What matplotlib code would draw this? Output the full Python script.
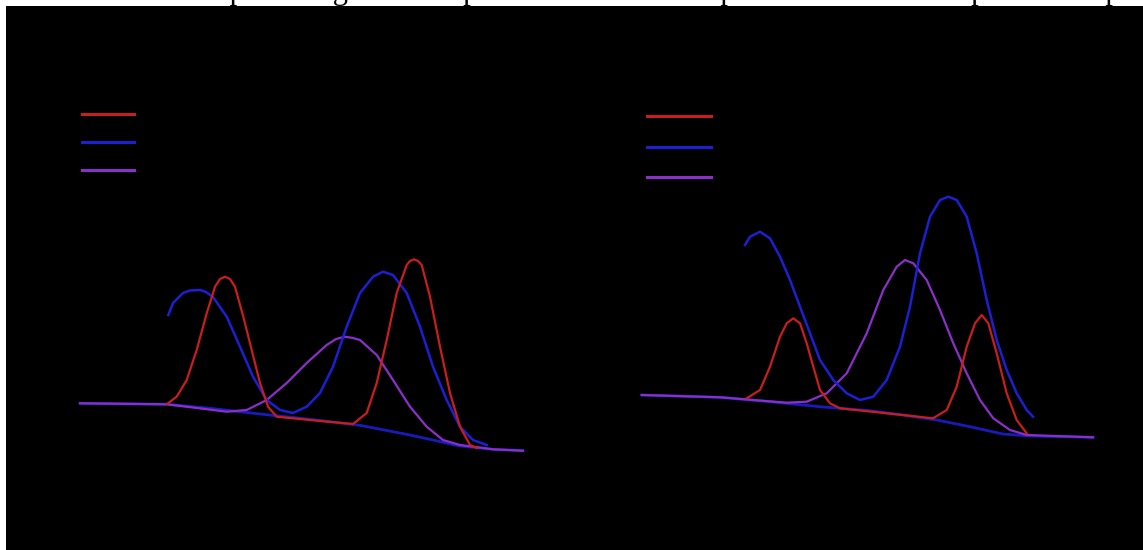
import matplotlib.pyplot as plt
from matplotlib.lines import Line2D

# colours of the three series
RED = "#c81e1e"
BLUE = "#1e1ed2"
PURPLE = "#8a30c8"

labels = ["Pristine", "After 24 h", "After 48 h"]

# ---- left panel (x: position, y: intensity a.u.)
l_bg_x = [80, 167, 210, 260, 310, 360, 410, 460, 493, 523]
l_bg_y = [96.7, 95.7, 91.7, 86, 80.7, 74.7, 65, 54, 50.7, 49.3]

l_red_x = [167, 176.7, 186.7, 196.7, 206.7, 215, 220, 225, 230, 235, 243.3, 251.7, 260, 268, 276.7,
           310, 353, 366.7, 376.7, 386.7, 396.7, 406.7, 410, 414, 418, 421.7, 430, 440, 450, 460, 470, 476.7]
l_red_y = [96, 103.3, 120, 150, 186.7, 213.3, 221, 223.3, 221, 213.3, 183.3, 150, 117, 93.3, 83.3,
           80, 76, 87, 117, 160, 207, 235, 239, 240.7, 239, 235, 203.3, 153.3, 107, 73.3, 55, 52]

l_blue_x = [168.3, 173, 183, 190, 200, 206, 213, 226.7, 240, 253, 266.7, 280, 293, 306.7, 320, 333,
            346.7, 360, 373, 383, 393, 406.7, 420, 433, 446.7, 460, 473, 486.7]
l_blue_y = [185, 197, 207, 209.5, 210, 208, 203, 183.3, 153.3, 123.3, 100, 90, 87, 93.3, 107, 133.3,
            173.3, 207, 223.3, 228.3, 225, 207, 173.3, 133.3, 100, 73.3, 60, 55]

l_pur_x = [80, 167, 226.7, 246.7, 266.7, 286.7, 306.7, 326.7, 336, 345, 353, 360, 376.7, 393, 410,
           426.7, 443, 460, 493, 523]
l_pur_y = [96.7, 95.7, 88.3, 90, 100, 117, 137, 155, 161, 163.3, 162, 160, 145, 120, 93.3,
           73.3, 60, 55, 50.7, 49.3]

# ---- right panel
r_bg_x = [641.7, 720, 770, 820, 870, 903, 936.7, 970, 1003, 1030, 1093]
r_bg_y = [105, 102.7, 98.3, 93.3, 89.3, 85, 80, 73.3, 66, 64, 62.7]

r_red_x = [746.7, 760, 770, 780, 786.7, 793.3, 800, 806.7, 813.3, 820, 830, 840, 886.7, 933,
           946.7, 956.7, 966.7, 975, 981.7, 988.3, 996.7, 1006.7, 1016.7, 1026.7]
r_red_y = [101.7, 110, 133.3, 163.3, 176.7, 181.7, 176.7, 156.7, 133.3, 110, 96.7, 91.7, 86.7, 81.7,
           90, 113.3, 153.3, 176.7, 185, 176.7, 146.7, 106.7, 80, 66.7]

r_blue_x = [745, 750, 760, 770, 780, 790, 800, 810, 820, 833.3, 846.7, 860, 873.3, 886.7, 900, 910,
            920, 930, 940, 948.3, 956.7, 966.7, 976.7, 986.7, 996.7, 1006.7, 1016.7, 1026.7, 1033]
r_blue_y = [255, 263.3, 268.3, 261.7, 243.3, 220, 193.3, 166.7, 140, 120, 106.7, 100, 103.3, 120,
            153.3, 193.3, 246.7, 283.3, 300, 303.3, 300, 283.3, 246.7, 200, 160, 130, 106.7, 90, 83.3]

r_pur_x = [641.7, 720, 786.7, 806.7, 826.7, 846.7, 866.7, 883.3, 896.7, 905, 913.3, 926.7, 940,
           953.3, 966.7, 980, 993.3, 1010, 1026.7, 1093]
r_pur_y = [105, 102.7, 97.3, 98.3, 106.7, 126.7, 166.7, 210, 233.3, 240, 236.7, 220, 190,
           156.7, 126.7, 100, 81.7, 70, 65, 62.7]

caption = ("Table 3. Results of the percentages of samples before and after polarization "
           "with respect to the pristine electrolyte")

W, H = 1143, 550
fig = plt.figure(figsize=(W / 100, H / 100), dpi=100, facecolor="white")

# black page area
bg = fig.add_axes([6 / W, 0, 1 - 6 / W, 1 - 6 / H])
bg.set_facecolor("black")
bg.set_xticks([])
bg.set_yticks([])
for s in bg.spines.values():
    s.set_visible(False)

# caption line of the page, mostly cut off by the top edge
fig.text(-51 / W, 1 + 0.5 / H, caption, family="Liberation Serif", fontsize=22,
         color="black", va="baseline", ha="left")


def panel(rect, xlim, bgx, bgy, rx, ry, bx, by, px, py, fs, hl, ls, anchor):
    ax = fig.add_axes(rect)
    ax.set_facecolor("none")
    ax.plot(bgx, bgy, color=BLUE, lw=2.0, alpha=0.9)
    ax.plot(px, py, color=PURPLE, lw=1.6, label=labels[2])
    ax.plot(bx, by, color=BLUE, lw=1.8, label=labels[1])
    ax.plot(rx, ry, color=RED, lw=1.6, label=labels[0])
    ax.set_xlim(*xlim)
    ax.set_ylim(0, 440)
    ax.set_xticks([])
    ax.set_yticks([])
    for s in ax.spines.values():
        s.set_color("black")
    handles = [Line2D([], [], color=c, lw=2.2) for c in (RED, BLUE, PURPLE)]
    leg = ax.legend(handles, labels, loc="upper left", bbox_to_anchor=anchor,
                    bbox_transform=fig.transFigure, frameon=False, borderpad=0,
                    borderaxespad=0, fontsize=fs, handlelength=hl, labelspacing=ls)
    for t in leg.get_texts():
        t.set_color("black")
    return ax


panel([60 / W, 50 / H, 480 / W, 440 / H], (60, 540), l_bg_x, l_bg_y, l_red_x, l_red_y,
      l_blue_x, l_blue_y, l_pur_x, l_pur_y, 12, 3.1, 0.62, (82 / W, 1 - 105.6 / H))
panel([620 / W, 50 / H, 500 / W, 440 / H], (620, 1120), r_bg_x, r_bg_y, r_red_x, r_red_y,
      r_blue_x, r_blue_y, r_pur_x, r_pur_y, 13, 3.54, 0.69, (647 / W, 1 - 108.5 / H))

fig.savefig("out.png", dpi=100, facecolor="white")
